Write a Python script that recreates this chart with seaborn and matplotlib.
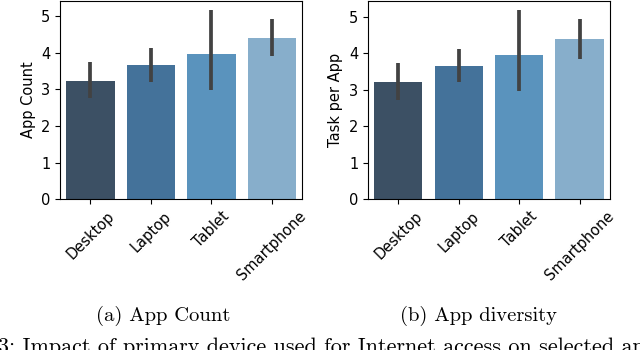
import matplotlib
matplotlib.use("Agg")
import matplotlib.pyplot as plt
import seaborn as sns
import pandas as pd
import numpy as np

devices = ["Desktop", "Laptop", "Tablet", "Smartphone"]

app_count_mean = [3.23, 3.66, 3.97, 4.41]
app_count_lo = [2.76, 3.21, 2.97, 3.90]
app_count_hi = [3.74, 4.12, 5.15, 4.92]

task_mean = [3.22, 3.65, 3.96, 4.40]
task_lo = [2.73, 3.21, 2.96, 3.84]
task_hi = [3.74, 4.12, 5.18, 4.95]

bar_colors = ["#3c5064", "#44729a", "#5a93bd", "#87aecb"]

caption_a = "(a) App Count"
caption_b = "(b) App diversity"
caption_fig = "3: Impact of primary device used for Internet access on selected app usage metrics"

plt.rcParams["font.size"] = 10.5

fig = plt.figure(figsize=(6.4, 3.5), dpi=100)
ax1 = fig.add_axes([0.094, 0.431, 0.378, 0.566])
ax2 = fig.add_axes([0.575, 0.431, 0.378, 0.566])


def draw(ax, mean, lo, hi, ylabel):
    df = pd.DataFrame({"device": devices, "value": mean})
    sns.barplot(data=df, x="device", y="value", hue="device", palette=bar_colors,
                saturation=1, errorbar=None, legend=False, ax=ax, width=0.8)
    ax.vlines(np.arange(len(devices)), lo, hi, color="#424242", linewidth=2.7)
    ax.set_xlim(-0.5, len(devices) - 0.5)
    ax.set_ylim(0, max(hi) * 1.05)
    ax.set_yticks([0, 1, 2, 3, 4, 5])
    ax.set_xlabel("")
    ax.set_ylabel(ylabel)
    ax.tick_params(axis="x", labelrotation=45)
    for lbl in ax.get_xticklabels():
        lbl.set_ha("center")


draw(ax1, app_count_mean, app_count_lo, app_count_hi, "App Count")
draw(ax2, task_mean, task_lo, task_hi, "Task per App")

fig.text(0.255, 0.097, caption_a, family="cmr10", fontsize=14.8, ha="center", va="center")
fig.text(0.747, 0.097, caption_b, family="cmr10", fontsize=14.8, ha="center", va="center")
fig.text(-0.003, 0.008, caption_fig, family="cmr10", fontsize=15.9, ha="left", va="center")

fig.savefig("out.png", dpi=100)
